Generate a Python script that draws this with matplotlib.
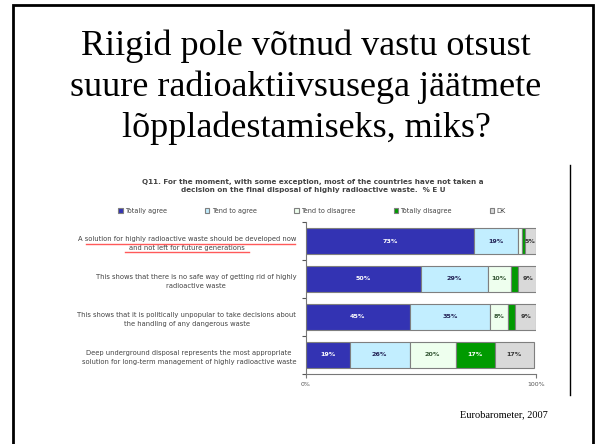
import matplotlib
matplotlib.use("Agg")
import matplotlib.pyplot as plt
from matplotlib.patches import Rectangle
from matplotlib.lines import Line2D
import numpy as np

# ---- data ----
slide_title = "Riigid pole võtnud vastu otsust\nsuure radioaktiivsusega jäätmete\nlõppladestamiseks, miks?"
chart_title = ("Q11. For the moment, with some exception, most of the countries have not taken a\n"
               "decision on the final disposal of highly radioactive waste.  % E U")
source = "Eurobarometer, 2007"
categories = [
    "A solution for highly radioactive waste should be developed now\nand not left for future generations",
    "This shows that there is no safe way of getting rid of highly\nradioactive waste",
    "This shows that it is politically unpopular to take decisions about\nthe handling of any dangerous waste",
    "Deep underground disposal represents the most appropriate\nsolution for long-term management of highly radioactive waste",
]
series_names = ["Totally agree", "Tend to agree", "Tend to disagree", "Totally disagree", "DK"]
totally_agree = [73, 50, 45, 19]
tend_agree = [19, 29, 35, 26]
tend_disagree = [2, 10, 8, 20]
totally_disagree = [1, 3, 3, 17]
dk = [5, 9, 9, 17]
x_ticks = [0, 100]
x_ticklabels = ["0%", "100%"]

series = [totally_agree, tend_agree, tend_disagree, totally_disagree, dk]
colors = ["#3333B3", "#C2EEFF", "#EEFFEE", "#009A00", "#D9D9D9"]
label_colors = ["white", "#222255", "#335533", "white", "#333333"]

W, H = 602, 444
fig = plt.figure(figsize=(W / 100, H / 100), dpi=100)

def fx(px):
    return px / W

def fy(py):
    return 1 - py / H

# slide frame
fig.add_artist(Rectangle((fx(13), fy(470)), fx(580), (470 - 5) / H, fill=False,
                         edgecolor="black", lw=2, transform=fig.transFigure))

# slide title
fig.text(fx(306), fy(87), slide_title, ha="center", va="center", fontsize=26,
         family="Liberation Serif", color="black", linespacing=1.3)

# chart title
fig.text(fx(313), fy(186), chart_title, ha="center", va="center", fontsize=5.2,
         family="DejaVu Sans", weight="bold", color="#444444", linespacing=1.45)

# axes
ax = fig.add_axes([fx(306), fy(374), fx(230), 152 / H])
y = np.arange(len(categories))
left = np.zeros(len(categories))
for vals, name, col, lc in zip(series, series_names, colors, label_colors):
    bars = ax.barh(y, vals, left=left, height=0.71, color=col, edgecolor="#7F7F7F",
                   linewidth=0.8, label=name)
    for b, v in zip(bars, vals):
        if v >= 5:
            ax.text(b.get_x() + b.get_width() / 2, b.get_y() + b.get_height() / 2, f"{v}%",
                    ha="center", va="center", fontsize=4.6, weight="bold",
                    color=lc, family="DejaVu Sans")
    left = left + np.array(vals)

ax.set_xlim(0, 100)
ax.set_ylim(len(categories) - 0.5, -0.5)
ax.set_xticks(x_ticks)
ax.set_xticklabels(x_ticklabels, fontsize=4.5, color="#555555", family="DejaVu Sans")
ax.set_yticks(y)
ax.set_yticklabels(categories, fontsize=4.9, color="#444444", family="DejaVu Sans",
                   multialignment="center", linespacing=1.75)
ax.set_yticks(np.arange(-0.5, len(categories)), minor=True)
ax.tick_params(axis="y", which="major", length=0, pad=7)
ax.tick_params(axis="y", which="minor", length=3, color="#555555", width=0.8)
ax.tick_params(axis="x", length=3, color="#777777", width=0.8, pad=3)
for s in ["top", "right"]:
    ax.spines[s].set_visible(False)
for s in ["left", "bottom"]:
    ax.spines[s].set_color("#777777")
    ax.spines[s].set_linewidth(0.8)

leg = fig.legend(loc="center", bbox_to_anchor=(fx(312), fy(211)), ncol=5, frameon=False,
                 prop={"family": "DejaVu Sans", "size": 4.7}, handlelength=0.7,
                 handleheight=0.7, handletextpad=0.35, columnspacing=5.8)
for t in leg.get_texts():
    t.set_color("#444444")

# red underline of first statement
fig.add_artist(Line2D([fx(86), fx(295)], [fy(244), fy(244)], color="#FF5A5A", lw=1,
                      transform=fig.transFigure))
fig.add_artist(Line2D([fx(125), fx(249)], [fy(252), fy(252)], color="#FF5A5A", lw=1,
                      transform=fig.transFigure))

# embedded picture edge
fig.add_artist(Line2D([fx(570), fx(570)], [fy(165), fy(395)], color="black", lw=1,
                      transform=fig.transFigure))

# source
fig.text(fx(548), fy(415), source, ha="right", va="center", fontsize=7.5,
         family="Liberation Serif", color="black")

fig.savefig("out.png", dpi=100)
